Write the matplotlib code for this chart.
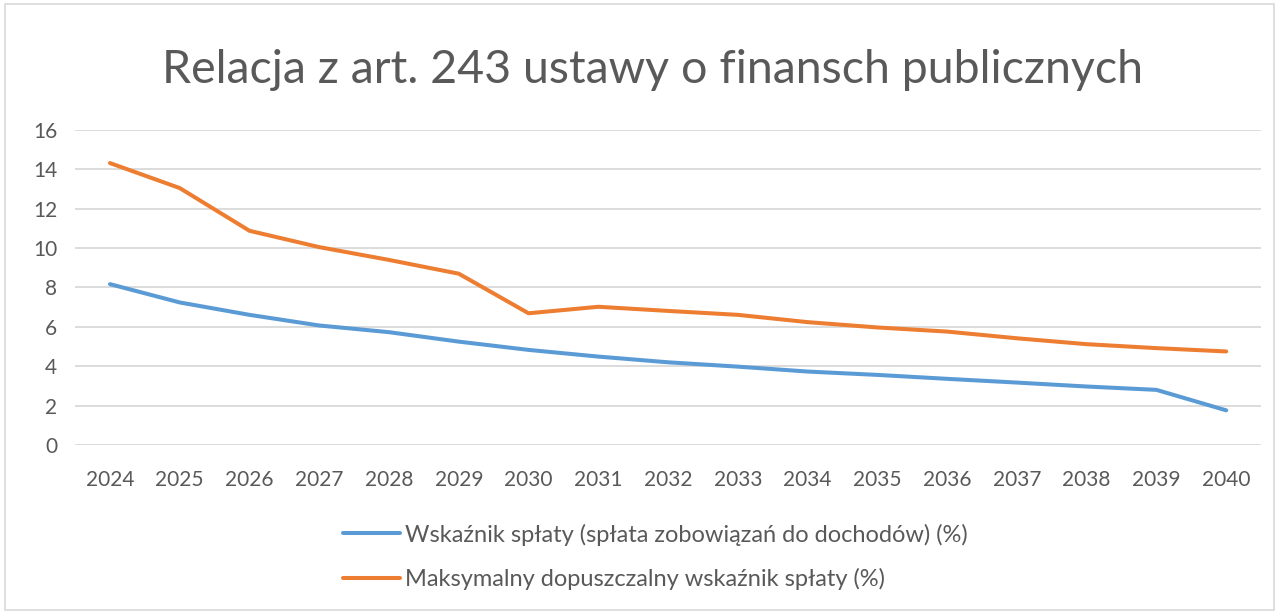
import matplotlib
matplotlib.use("Agg")
import matplotlib.pyplot as plt
from matplotlib.patches import Rectangle

# ------------------------------
# Data
# ------------------------------
years = [str(y) for y in range(2024, 2041)]
wskaznik_splaty = [8.17, 7.24, 6.61, 6.07, 5.73, 5.25, 4.83, 4.49, 4.20,
                   3.98, 3.73, 3.56, 3.36, 3.17, 2.97, 2.80, 1.76]
maks_wskaznik = [14.32, 13.05, 10.88, 10.05, 9.40, 8.70, 6.69, 7.02, 6.81,
                 6.61, 6.24, 5.97, 5.76, 5.42, 5.12, 4.92, 4.75]
y_ticks = [0, 2, 4, 6, 8, 10, 12, 14, 16]

TITLE = "Relacja z art. 243 ustawy o finansch publicznych"
LABEL_BLUE = "Wskaźnik spłaty (spłata zobowiązań do dochodów) (%)"
LABEL_ORANGE = "Maksymalny dopuszczalny wskaźnik spłaty (%)"

BLUE = "#5B9BD5"
ORANGE = "#ED7D31"
TEXT = "#595959"
GRID = "#D9D9D9"

plt.rcParams["font.family"] = ["Lato", "DejaVu Sans"]

# ------------------------------
# Figure
# ------------------------------
fig = plt.figure(figsize=(12.79, 6.12), dpi=100)
fig.patches.append(Rectangle((0.004, 0.004), 0.992, 0.99, transform=fig.transFigure,
                             fill=False, edgecolor=GRID, linewidth=1.2))

ax = fig.add_axes([0.0587, 0.2729, 0.9273, 0.5147])
x = list(range(len(years)))
ax.plot(x, wskaznik_splaty, color=BLUE, linewidth=2.9, label=LABEL_BLUE,
        solid_capstyle="round")
ax.plot(x, maks_wskaznik, color=ORANGE, linewidth=2.9, label=LABEL_ORANGE,
        solid_capstyle="round")

ax.set_xlim(-0.5, len(years) - 0.5)
ax.set_ylim(0, 16)
ax.set_yticks(y_ticks)
ax.set_xticks(x)
ax.set_xticklabels(years)
ax.yaxis.grid(True, color=GRID, linewidth=1.3)
ax.set_axisbelow(True)
for side in ["top", "right", "left", "bottom"]:
    ax.spines[side].set_visible(False)
ax.tick_params(axis="both", length=0, labelsize=15, labelcolor=TEXT)
ax.tick_params(axis="x", pad=18)
ax.tick_params(axis="y", pad=13)

fig.text(0.51, 0.886, TITLE, ha="center", va="center", fontsize=33.5,
         color=TEXT)

fig.legend(loc="upper left", bbox_to_anchor=(0.261, 0.160), ncol=1,
           frameon=False, fontsize=17, labelcolor=TEXT, handlelength=2.4,
           handletextpad=0.2, labelspacing=0.95, borderaxespad=0)

fig.savefig("out.png", dpi=100)
